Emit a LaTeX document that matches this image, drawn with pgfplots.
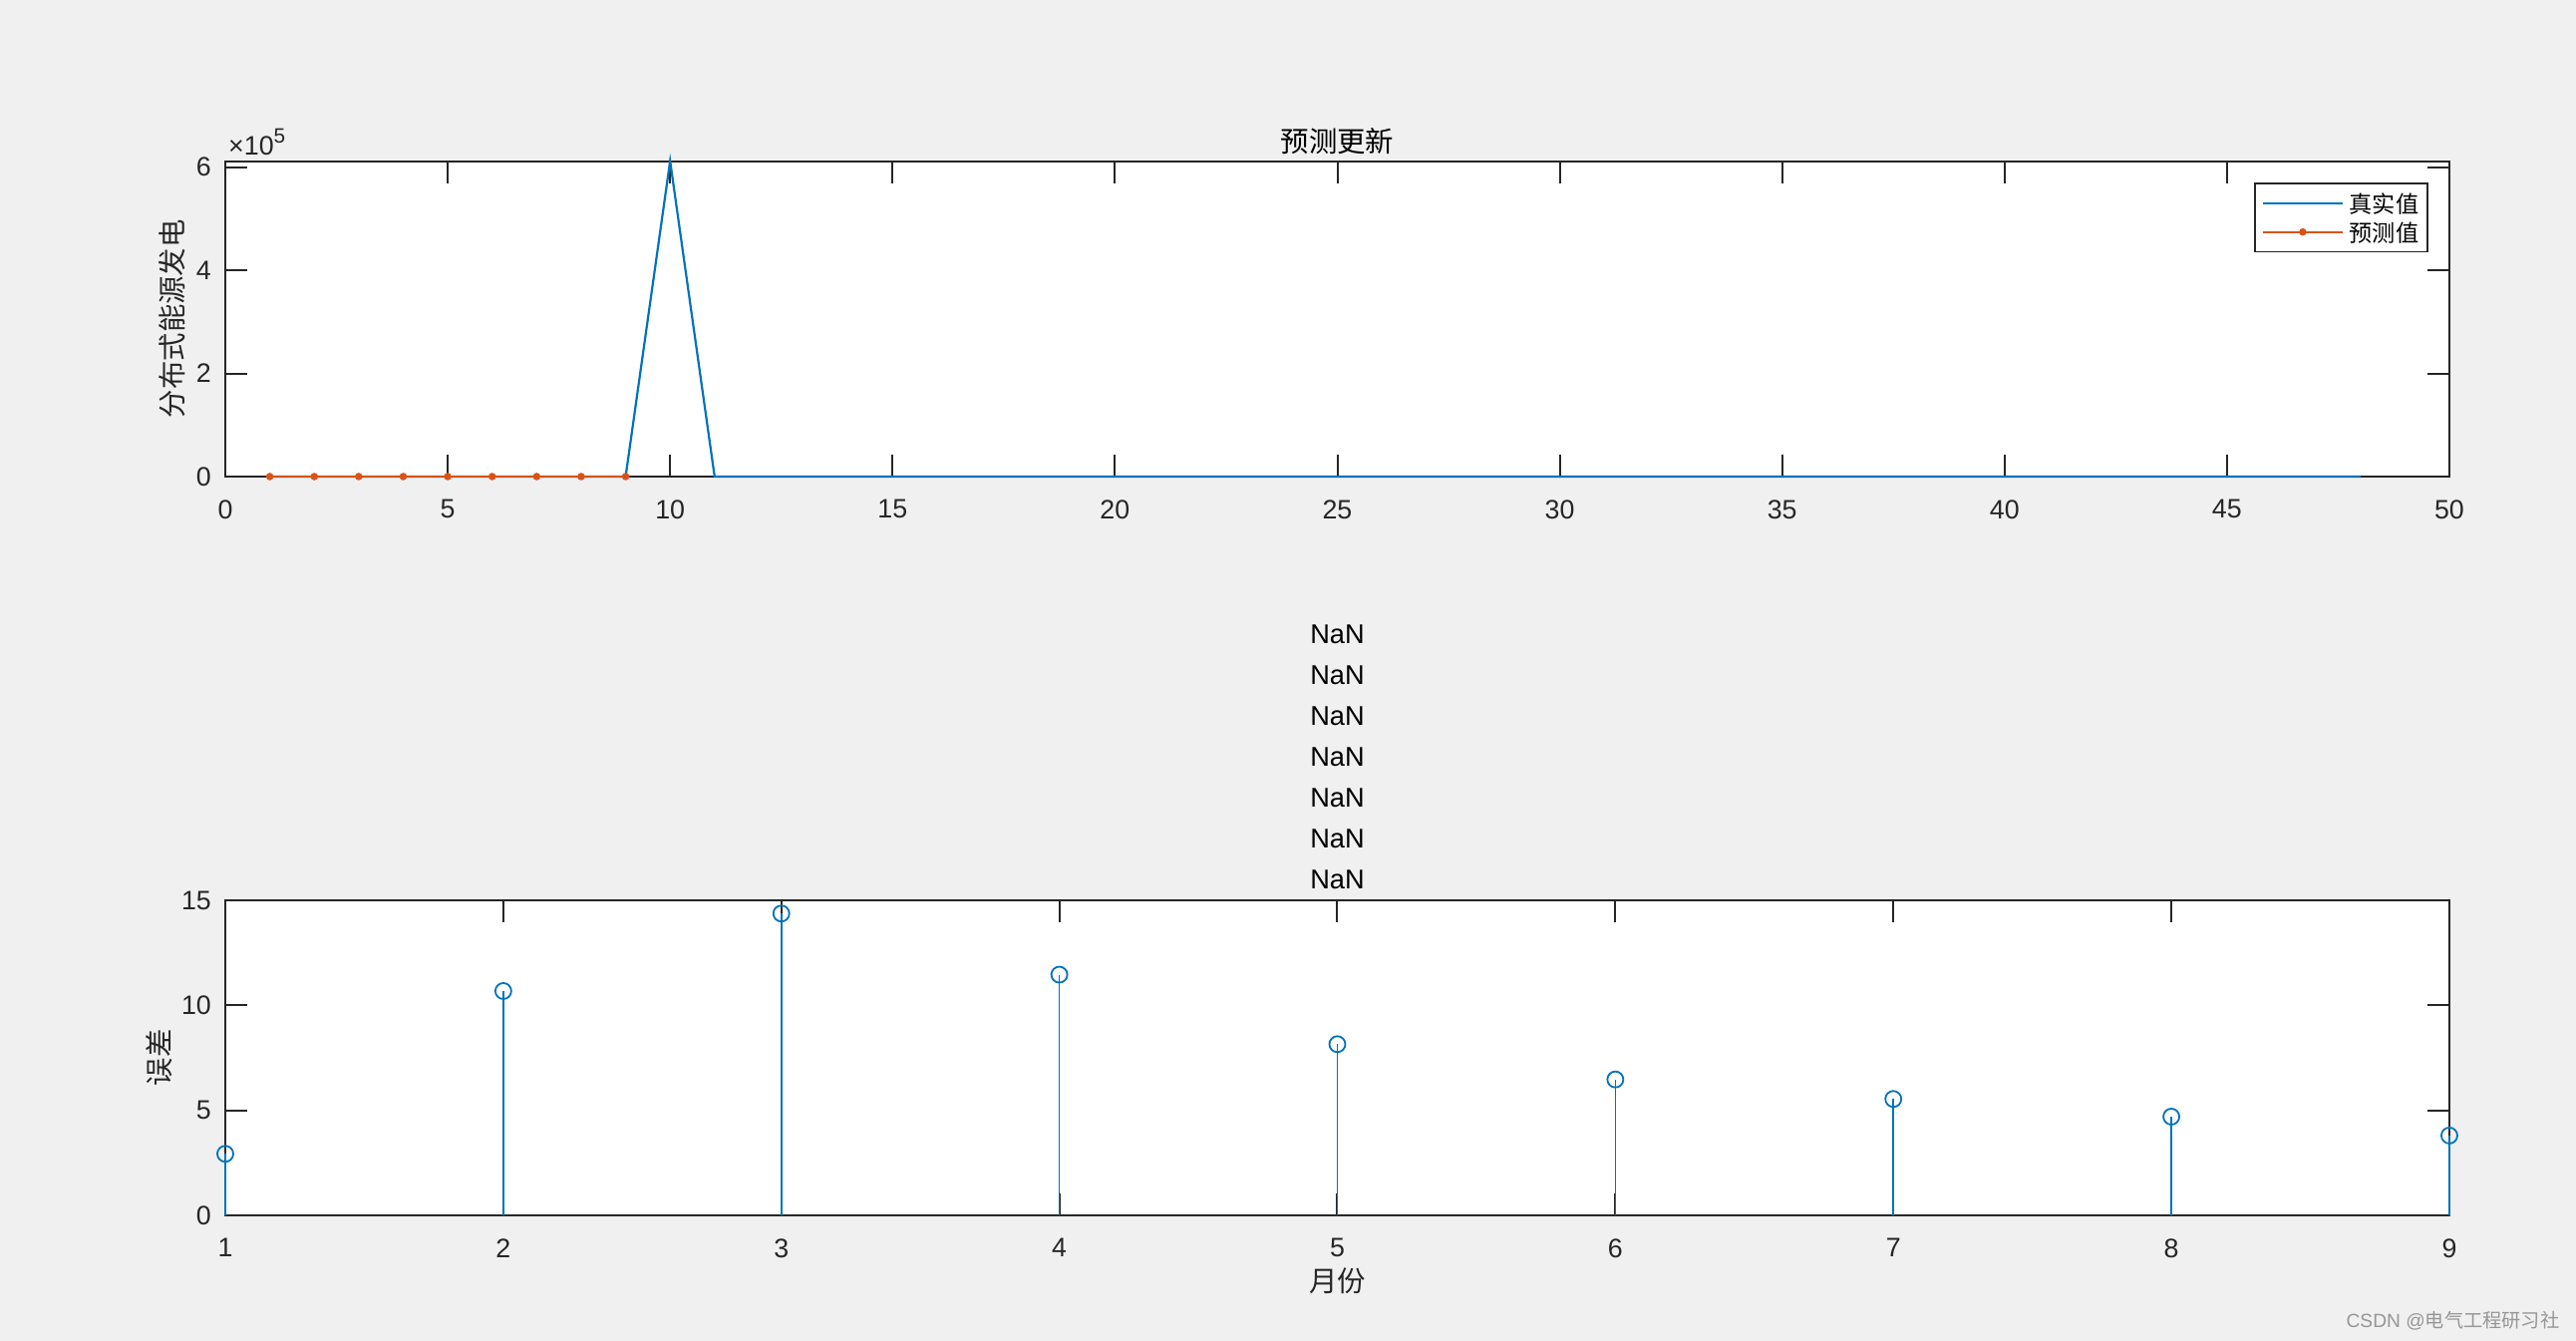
\documentclass[border=0pt]{standalone}
\usepackage{fontspec}
\setmainfont{Liberation Sans}
\newfontfamily\cjk{Noto Sans CJK SC}
\usepackage{pgfplots}
\pgfplotsset{compat=1.18}
\definecolor{figbg}{RGB}{240,240,240}
\definecolor{axcol}{RGB}{38,38,38}
\definecolor{mblue}{RGB}{0,114,189}
\definecolor{morange}{RGB}{217,83,25}
\definecolor{wm}{RGB}{150,150,150}

\pgfplotstableread{
x y
1 0
2 0
3 0
4 0
5 0
6 0
7 0
8 0
9 0
10 611600
11 0
12 0
13 0
14 0
15 0
16 0
17 0
18 0
19 0
20 0
21 0
22 0
23 0
24 0
25 0
26 0
27 0
28 0
29 0
30 0
31 0
32 0
33 0
34 0
35 0
36 0
37 0
38 0
39 0
40 0
41 0
42 0
43 0
44 0
45 0
46 0
47 0
48 0
}\realtab

\pgfplotstableread{
x y
1 0
2 0
3 0
4 0
5 0
6 0
7 0
8 0
9 0
}\predtab

\pgfplotstableread{
x y
1 2.93
2 10.68
3 14.37
4 11.46
5 8.15
6 6.47
7 5.54
8 4.70
9 3.80
}\errtab

\pgfplotsset{
  mstyle/.style={
    scale only axis,
    width=557.75pt,
    height=79.1pt,
    axis background/.style={fill=white},
    axis line style={draw=axcol, line width=0.5pt},
    every tick/.style={draw=axcol, line width=0.5pt},
    major tick length=5.5pt,
    tick align=inside,
    every axis title shift=0pt,
    font=\fontsize{6.7}{8}\selectfont,
    tick label style={font=\fontsize{6.7}{8}\selectfont, text=axcol},
    /pgf/number format/assume math mode=true,
    xticklabel style={yshift=-2.3pt},
    scaled ticks=false,
    clip=false,
    anchor=south west,
  }
}

\begin{document}
\begin{tikzpicture}[x=1pt,y=1pt]
\fill[figbg] (0,0) rectangle (646,336.25);
\useasboundingbox (0,0) rectangle (646,336.25);

% top axis
\begin{axis}[mstyle,
  at={(56.5pt,216.75pt)},
  xmin=0, xmax=50, ymin=0, ymax=611600,
  xtick={0,5,...,50},
  ytick={0,200000,400000,600000},
  yticklabels={0,2,4,6},
  title={\cjk 预测更新},
  title style={at={(axis description cs:0.5,1.0616)}, anchor=center, font=\fontsize{7.1}{8}\selectfont\cjk, text=black, inner sep=0pt},
  ylabel={\cjk 分布式能源发电},
  ylabel style={at={(axis description cs:-0.0238,0.5)}, rotate=0, anchor=center, font=\fontsize{7.1}{8}\selectfont\cjk, text=axcol, inner sep=0pt},
  legend style={at={(axis description cs:0.9906,0.932)}, anchor=north east,
    draw=axcol, line width=0.4pt, fill=white,
    font=\fontsize{5.8}{7}\selectfont\cjk,
    inner xsep=1.75pt, inner ysep=1.55pt, row sep=0.3pt,
    nodes={inner sep=0.5pt, text height=5.3pt, text depth=0.6pt},
    /tikz/every odd column/.style={column sep=0.9pt}},
  legend cell align=left,
  legend image code/.code={\draw[mark repeat=2,mark phase=2,#1] plot coordinates {(0pt,0pt) (10pt,0pt) (20pt,0pt)};},
]
\addplot[mblue, line width=0.55pt, mark=none] table[x=x,y=y] {\realtab};
\addlegendentry{真实值}
\addplot[morange, line width=0.55pt, mark=*, mark size=0.65pt, mark options={fill=morange, draw=morange}] table[x=x,y=y] {\predtab};
\addlegendentry{预测值}
\node[anchor=base west, inner sep=0pt, text=axcol, font=\fontsize{6.7}{8}\selectfont] at (rel axis cs:0,1) [xshift=0.6pt, yshift=1.4pt] {×10\raisebox{0.45em}{\fontsize{5.2}{6}\selectfont 5}};
\end{axis}

% bottom axis
\begin{axis}[mstyle,
  at={(56.5pt,31.5pt)},
  height=79pt,
  xmin=1, xmax=9, ymin=0, ymax=15,
  xtick={1,2,...,9},
  ytick={0,5,10,15},
  title={NaN\\NaN\\NaN\\NaN\\NaN\\NaN\\NaN},
  title style={at={(axis description cs:0.5,1)}, anchor=south, yshift=2.5pt, align=center, font=\fontsize{6.8}{10.25}\selectfont, text=black, inner sep=0pt},
  xlabel={\cjk 月份},
  xlabel style={at={(axis description cs:0.5,-0.2089)}, anchor=center, font=\fontsize{7.1}{8}\selectfont\cjk, text=axcol, inner sep=0pt},
  ylabel={\cjk 误差},
  ylabel style={at={(axis description cs:-0.0296,0.5)}, rotate=0, anchor=center, font=\fontsize{7.1}{8}\selectfont\cjk, text=axcol, inner sep=0pt},
]
\addplot[ycomb, mblue, line width=0.4pt, mark=o, mark size=2pt, mark options={draw=mblue, line width=0.45pt}] table[x=x,y=y] {\errtab};
\end{axis}

\node[anchor=east, inner sep=0pt, text=wm, font=\fontsize{4.8}{6}\selectfont] at (642,5) {CSDN @{\cjk 电气工程研习社}};
\end{tikzpicture}
\end{document}
